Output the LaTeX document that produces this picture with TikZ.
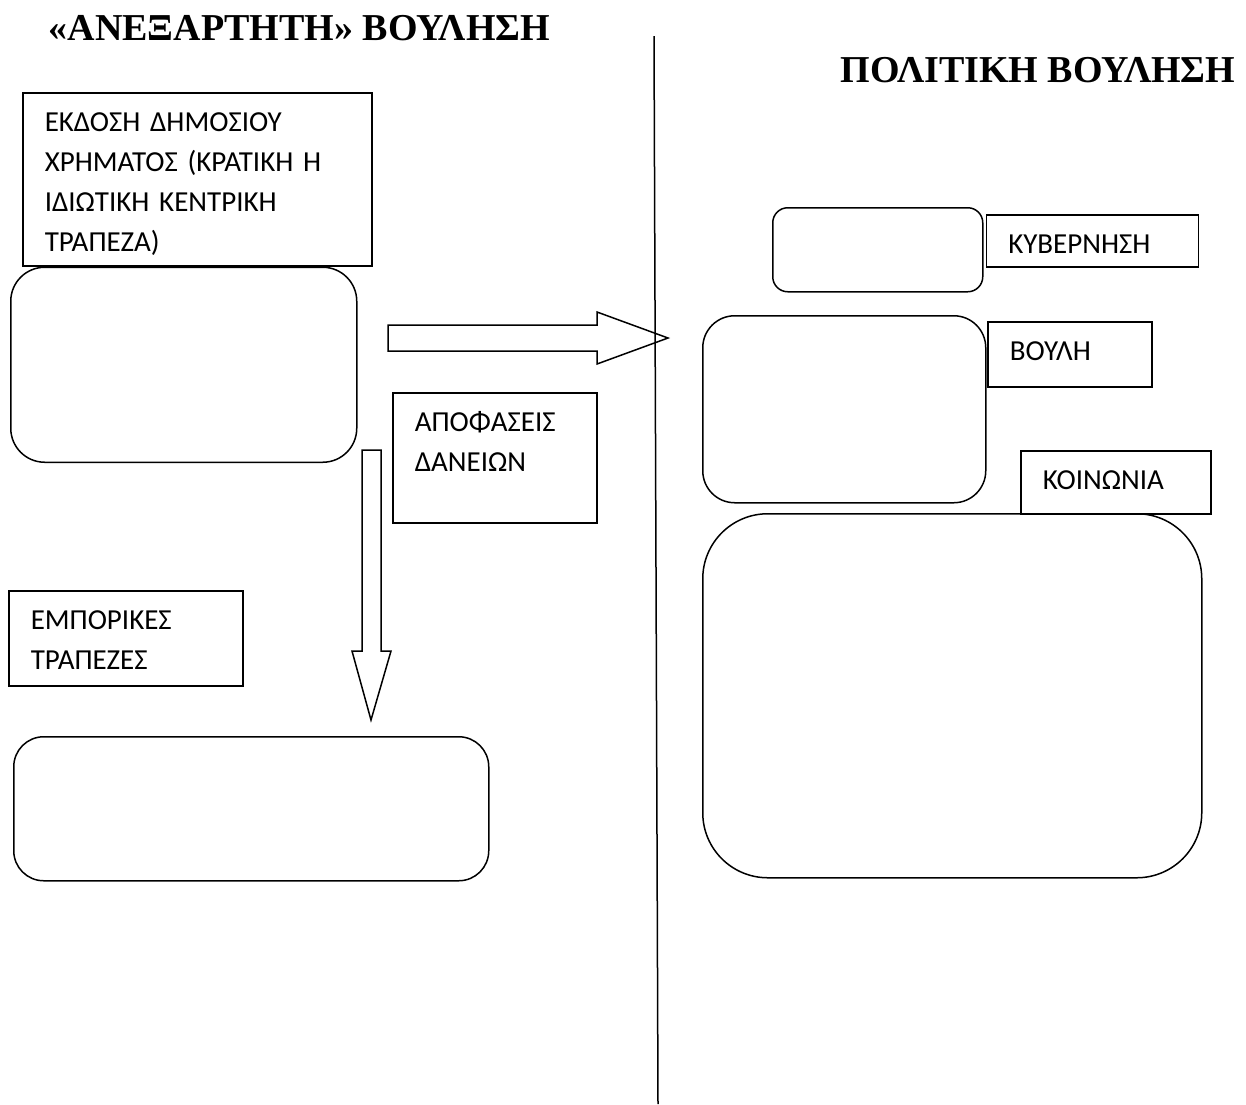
\documentclass[tikz,border=0pt]{standalone}
\usepackage{fontspec}
\setmainfont{Liberation Serif}
\newfontfamily\boxfont{Carlito}
\usepackage{tikz}
\usetikzlibrary{positioning, calc}

\begin{document}
\begin{tikzpicture}[x=1pt, y=-1pt, line width=1.5pt,
    title/.style={font=\bfseries\fontsize{38}{38}\selectfont, inner sep=0pt},
    rbox/.style={rectangle, draw, rounded corners=#1, anchor=north west, inner sep=0pt},
    lbox/.style={rectangle, draw, anchor=north west, align=left, inner xsep=22pt, inner ysep=0pt,
        text height=39pt, font=\boxfont\fontsize{29}{40}\selectfont},
    blockarrow/.style={draw, line join=miter}]
    \useasboundingbox (0,0) rectangle (1246,1104);

    % titles
    \node [title, anchor=base west] (indep) at (48,40) {«ΑΝΕΞΑΡΤΗΤΗ» ΒΟΥΛΗΣΗ};
    \node [title, anchor=base east] (polit) at (1236,82) {ΠΟΛΙΤΙΚΗ ΒΟΥΛΗΣΗ};

    % dividing line
    \coordinate (divtop) at (654,36);
    \coordinate (divbot) at (658,1104);
    \draw (divtop) -- (divbot);

    % left side
    \node [lbox, text width=305pt, text depth=134pt] (issue) at (22,92) {ΕΚΔΟΣΗ ΔΗΜΟΣΙΟΥ\\ΧΡΗΜΑΤΟΣ (ΚΡΑΤΙΚΗ Η\\ΙΔΙΩΤΙΚΗ ΚΕΝΤΡΙΚΗ\\ΤΡΑΠΕΖΑ)};
    \node [rbox=34pt, minimum width=346pt, minimum height=195pt, below=0pt of issue.south west, anchor=north west, xshift=-12pt] (cbank) {};
    \node [lbox, text width=160pt, text depth=91pt] (loans) at (392,392) {ΑΠΟΦΑΣΕΙΣ\\ΔΑΝΕΙΩΝ};
    \node [lbox, text width=190pt, text depth=56pt] (commb) at (8,590) {ΕΜΠΟΡΙΚΕΣ\\ΤΡΑΠΕΖΕΣ};
    \node [rbox=30pt, minimum width=475pt, minimum height=144pt] (banks) at (13,736) {};

    % block arrows
    \draw [blockarrow] (388,325) -- (597,325) -- (597,312) -- (668,338) -- (597,364) -- (597,351) -- (388,351) -- cycle;
    \draw [blockarrow] (362,450) -- (381,450) -- (381,651) -- (391,651) -- (371,720) -- (352,651) -- (362,651) -- cycle;

    % right side
    \node [rbox=15pt, minimum width=210pt, minimum height=84pt] (gov) at (772,207) {};
    \node [lbox, text width=168pt, text depth=13pt, right=2pt of gov.north east, anchor=north west, yshift=-7pt] (govlbl) {ΚΥΒΕΡΝΗΣΗ};
    \node [rbox=32pt, minimum width=283pt, minimum height=187pt] (parl) at (702,315) {};
    \node [lbox, text width=120pt, text depth=26pt] (parllbl) at (987,321) {ΒΟΥΛΗ};
    \node [lbox, text width=146pt, text depth=24pt] (soclbl) at (1020,450) {ΚΟΙΝΩΝΙΑ};
    \node [rbox=65pt, minimum width=499pt, minimum height=364pt] (soc) at (702,513) {};
\end{tikzpicture}
\end{document}
